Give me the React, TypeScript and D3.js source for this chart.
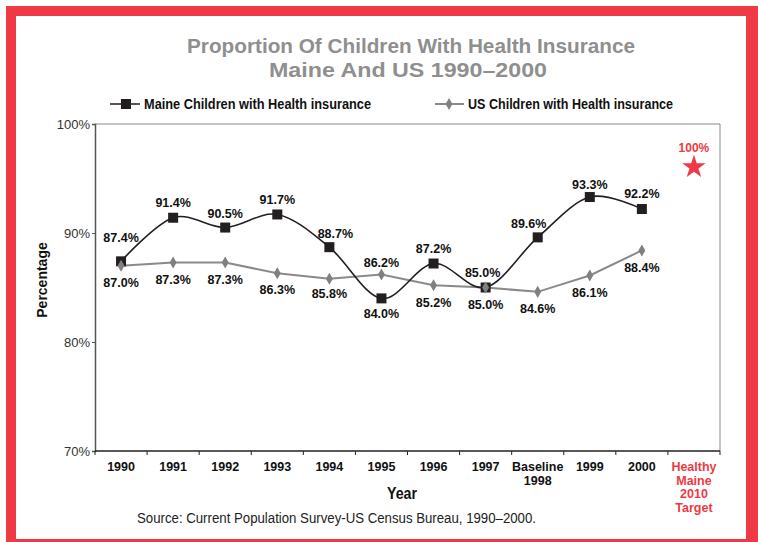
import * as d3 from "d3";
import { useEffect, useRef } from "react";

const categories = ["1990", "1991", "1992", "1993", "1994", "1995", "1996", "1997", "Baseline\n1998", "1999", "2000", "Healthy\nMaine\n2010\nTarget"];
const maineValues = [87.4, 91.4, 90.5, 91.7, 88.7, 84.0, 87.2, 85.0, 89.6, 93.3, 92.2];
const usValues = [87.0, 87.3, 87.3, 86.3, 85.8, 86.2, 85.2, 85.0, 84.6, 86.1, 88.4];
const targetValue = 100;
const yTicks = [70, 80, 90, 100];

const RED = "#ee3a44";
const SANS = "'Liberation Sans', Arial, sans-serif";

export default function App() {
    const ref = useRef<SVGSVGElement | null>(null);

    useEffect(() => {
        if (!ref.current) return;
        const svg = d3.select(ref.current);
        svg.selectAll("*").remove();

        // frame
        svg.append("rect").attr("x", 6).attr("y", 6).attr("width", 752).attr("height", 536).attr("fill", RED);
        svg.append("rect").attr("x", 16).attr("y", 16).attr("width", 730).attr("height", 523).attr("fill", "#fff");

        const left = 95, right = 720, top = 124, bottom = 451;

        const x = d3.scaleBand<string>().domain(categories).range([left, right]);
        const y = d3.scaleLinear().domain([70, 100]).range([bottom, top]);
        const cx = (i: number) => x(categories[i])! + x.bandwidth() / 2;

        // title, squeezed to a condensed look
        const title = svg.append("g")
            .attr("font-family", SANS)
            .attr("font-weight", "bold")
            .attr("font-size", 21)
            .attr("fill", "#8f8f8f");
        title.append("text").attr("x", 187).attr("y", 53).attr("textLength", 448).attr("lengthAdjust", "spacingAndGlyphs")
            .text("Proportion Of Children With Health Insurance");
        title.append("text").attr("x", 269).attr("y", 77).attr("textLength", 278).attr("lengthAdjust", "spacingAndGlyphs")
            .text("Maine And US 1990–2000");

        // legend
        const lg = svg.append("g").attr("font-family", SANS).attr("font-weight", "bold").attr("font-size", 14).attr("fill", "#111");
        lg.append("line").attr("x1", 110).attr("x2", 140).attr("y1", 104).attr("y2", 104).attr("stroke", "#231f20").attr("stroke-width", 1.5);
        lg.append("rect").attr("x", 121).attr("y", 99).attr("width", 10).attr("height", 10).attr("fill", "#231f20");
        lg.append("text").attr("x", 144).attr("y", 109).attr("textLength", 227).attr("lengthAdjust", "spacingAndGlyphs")
            .text("Maine Children with Health insurance");
        lg.append("line").attr("x1", 435).attr("x2", 464).attr("y1", 104).attr("y2", 104).attr("stroke", "#8a8a8a").attr("stroke-width", 2);
        lg.append("path").attr("d", d3.symbol(d3.symbolDiamond, 40)()).attr("transform", "translate(449,104)").attr("fill", "#808080");
        lg.append("text").attr("x", 468).attr("y", 109).attr("textLength", 205).attr("lengthAdjust", "spacingAndGlyphs")
            .text("US Children with Health insurance");

        // plot border (top/right)
        svg.append("path")
            .attr("d", `M${left},${top}H${right}V${bottom}`)
            .attr("fill", "none").attr("stroke", "#8a8a8a").attr("stroke-width", 1);

        // y axis
        const ya = svg.append("g").attr("transform", `translate(${left},0)`)
            .call(d3.axisLeft(y).tickValues(yTicks).tickSize(3).tickFormat(d => `${d}%`));
        ya.select(".domain").attr("stroke", "#555").attr("stroke-width", 1.5);
        ya.selectAll(".tick line").attr("stroke", "#555");
        ya.selectAll(".tick text").attr("font-family", SANS).attr("font-size", 13).attr("fill", "#333").attr("x", -5);

        // x axis
        const xa = svg.append("g").attr("transform", `translate(0,${bottom})`);
        xa.append("line").attr("x1", left).attr("x2", right).attr("stroke", "#222").attr("stroke-width", 1.5);
        xa.selectAll("line.tk")
            .data(d3.range(categories.length + 1))
            .join("line")
            .attr("class", "tk")
            .attr("x1", i => left + i * x.step())
            .attr("x2", i => left + i * x.step())
            .attr("y1", 0).attr("y2", 4)
            .attr("stroke", "#222");
        xa.selectAll("text.cat")
            .data(categories)
            .join("text")
            .attr("class", "cat")
            .attr("text-anchor", "middle")
            .attr("font-family", SANS)
            .attr("font-weight", "bold")
            .attr("font-size", 12.5)
            .attr("fill", (d, i) => i === categories.length - 1 ? RED : "#111")
            .each(function (d, i) {
                const t = d3.select(this);
                d.split("\n").forEach((line, k) => {
                    t.append("tspan").attr("x", cx(i)).attr("y", 20 + k * 13.5).text(line);
                });
            });

        svg.append("text").attr("x", 387).attr("y", 499)
            .attr("textLength", 30).attr("lengthAdjust", "spacingAndGlyphs")
            .attr("font-family", SANS).attr("font-weight", "bold").attr("font-size", 16).attr("fill", "#111").text("Year");

        svg.append("text").attr("transform", "translate(47,280) rotate(-90)").attr("text-anchor", "middle")
            .attr("font-family", SANS).attr("font-weight", "bold").attr("font-size", 14).attr("fill", "#111").text("Percentage");

        svg.append("text").attr("x", 137).attr("y", 523)
            .attr("textLength", 399).attr("lengthAdjust", "spacingAndGlyphs")
            .attr("font-family", SANS).attr("font-size", 14).attr("fill", "#222")
            .text("Source: Current Population Survey-US Census Bureau, 1990–2000.");

        // US line
        svg.append("path")
            .datum(usValues)
            .attr("fill", "none").attr("stroke", "#8a8a8a").attr("stroke-width", 2)
            .attr("d", d3.line<number>().x((d, i) => cx(i)).y(d => y(d)));

        // Maine line (smoothed)
        svg.append("path")
            .datum(maineValues)
            .attr("fill", "none").attr("stroke", "#231f20").attr("stroke-width", 1.6)
            .attr("d", d3.line<number>().x((d, i) => cx(i)).y(d => y(d)).curve(d3.curveCardinal.tension(0)));

        svg.selectAll("rect.mk")
            .data(maineValues)
            .join("rect")
            .attr("class", "mk")
            .attr("x", (d, i) => cx(i) - 5).attr("y", d => y(d) - 5)
            .attr("width", 10).attr("height", 10)
            .attr("fill", "#231f20");

        svg.selectAll("path.dm")
            .data(usValues)
            .join("path")
            .attr("class", "dm")
            .attr("d", d3.symbol(d3.symbolDiamond, 42)())
            .attr("transform", (d, i) => `translate(${cx(i)},${y(d)})`)
            .attr("fill", "#808080");

        // labels
        const maineDy = [-24, -15, -14, -15, -14, 15, -15, -15, -14, -13, -16];
        const maineDx = [0, 0, 0, 0, 6, 0, 0, -3, -9, 0, 0];
        const usDy = [17, 17, 17, 16, 15, -12, 17, 17, 17, 17, 17];

        const lbl = svg.append("g").attr("font-family", SANS).attr("font-weight", "bold").attr("font-size", 12.5).attr("fill", "#111").attr("text-anchor", "middle");
        lbl.selectAll("text.m")
            .data(maineValues)
            .join("text")
            .attr("class", "m")
            .attr("x", (d, i) => cx(i) + maineDx[i])
            .attr("y", (d, i) => y(d) + maineDy[i] + 4.5)
            .text(d => `${d.toFixed(1)}%`);
        lbl.selectAll("text.u")
            .data(usValues)
            .join("text")
            .attr("class", "u")
            .attr("x", (d, i) => cx(i))
            .attr("y", (d, i) => y(d) + usDy[i] + 4.5)
            .text(d => `${d.toFixed(1)}%`);

        // target star
        const ti = categories.length - 1;
        svg.append("path")
            .attr("d", d3.symbol(d3.symbolStar, 170)())
            .attr("transform", `translate(${cx(ti)},${y(targetValue) + 43})`)
            .attr("fill", RED);
        svg.append("text")
            .attr("x", cx(ti)).attr("y", y(targetValue) + 28)
            .attr("text-anchor", "middle")
            .attr("font-family", SANS).attr("font-weight", "bold").attr("font-size", 12)
            .attr("fill", RED)
            .text(`${targetValue}%`);
    }, []);

    return <svg ref={ref} width={758} height={542} style={{ position: "absolute", left: 0, top: 0 }} />;
}
